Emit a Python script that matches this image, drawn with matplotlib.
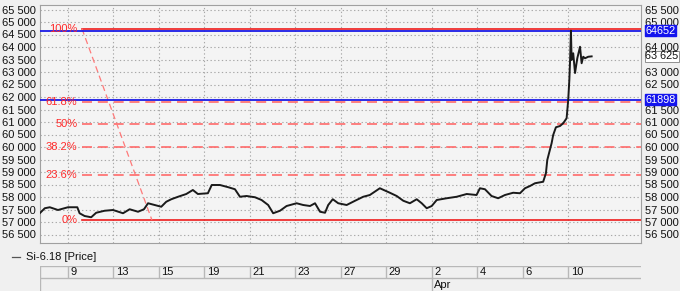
import matplotlib
matplotlib.use("Agg")
import matplotlib.pyplot as plt
from matplotlib.lines import Line2D
from matplotlib.ticker import FuncFormatter

plt.rcParams['font.family'] = ['Liberation Sans', 'DejaVu Sans']

# ---- data (x = trading-day index, 0 = Mar 9) ----
day_idx = [-1.23, -1.02, -0.80, -0.44, 0.00, 0.41, 0.51, 0.73, 1.02, 1.24, 1.61, 1.98,
           2.42, 2.71, 3.08, 3.34, 3.52, 3.81, 4.10, 4.32, 4.54, 4.84, 5.20, 5.49,
           5.71, 6.15, 6.32, 6.68, 7.05, 7.34, 7.56, 7.85, 8.22, 8.51, 8.80, 9.02,
           9.32, 9.61, 10.05, 10.34, 10.64, 10.86, 11.08, 11.30, 11.44, 11.64, 11.88,
           12.25, 12.62, 12.98, 13.27, 13.71, 14.15, 14.45, 14.74, 15.03, 15.33, 15.55,
           15.77, 15.99, 16.21, 16.65, 17.09, 17.53, 17.96, 18.11, 18.33, 18.62, 18.91,
           19.21, 19.57, 19.87, 20.09, 20.31, 20.53, 20.89, 21.01, 21.07, 21.26, 21.33,
           21.45, 21.63, 21.77, 21.92, 21.99, 22.04, 22.07, 22.11, 22.14, 22.21, 22.29,
           22.39, 22.51, 22.58, 22.65, 22.73, 22.87, 23.02]
price = [57360, 57550, 57590, 57480, 57590, 57590, 57350, 57240, 57190, 57370, 57450, 57480,
         57350, 57510, 57410, 57510, 57750, 57680, 57610, 57810, 57910, 58010, 58120, 58280,
         58120, 58150, 58480, 58480, 58390, 58310, 58010, 58040, 57990, 57880, 57680, 57350,
         57450, 57640, 57750, 57680, 57640, 57750, 57410, 57370, 57680, 57910, 57750,
         57680, 57850, 58010, 58080, 58350, 58170, 58040, 57850, 57750, 57910, 57750,
         57550, 57640, 57880, 57950, 58010, 58120, 58080, 58350, 58310, 58040, 57950,
         58080, 58170, 58150, 58350, 58440, 58550, 58610, 58950, 59480, 60150, 60480,
         60790, 60840, 60950, 61150, 61880, 62680, 63410, 64652, 63480, 63750, 62960,
         63550, 64010, 63350, 63610, 63550, 63610, 63625]

tick_idx = [0, 2, 4, 6, 8, 10, 12, 14, 16, 18, 20, 22]
tick_labels = ['9', '13', '15', '19', '21', '23', '27', '29', '2', '4', '6', '10']
month_label = 'Apr'
month_idx = 16

fib_start_idx = 0.615
fib_end_idx = 3.69
fib_high = 64732
fib_low = 57080
fib_ratios = [1.0, 0.618, 0.5, 0.382, 0.236, 0.0]
fib_names = ['100%', '61.8%', '50%', '38.2%', '23.6%', '0%']

blue_levels = [64652, 61898]
last_price = 63625
series_name = 'Si-6.18 [Price]'

# ---- figure ----
W, H = 680, 291
FS = 8.0
TFS = 7.8
fig = plt.figure(figsize=(W / 100, H / 100), dpi=100, facecolor='#f0f0f0')
ax = fig.add_axes([40 / W, 1 - 243 / H, 601 / W, 238 / H], facecolor='#f4f4f4')
ax.set_xlim(-1.23, 25.19)
ax.set_ylim(56160, 65680)

for s in ax.spines.values():
    s.set_color('#a0a0a0')
    s.set_linewidth(0.8)

yt = list(range(56500, 65501, 500))
ax.set_yticks(yt)
fmt = FuncFormatter(lambda v, p: f"{int(v):,}".replace(',', ' '))
ax.yaxis.set_major_formatter(fmt)
ax.tick_params(axis='y', which='both', length=0, labelsize=FS, colors='#111111',
               left=False, right=False, labelleft=True, labelright=True, pad=3)
ax.set_xticks(tick_idx)
ax.tick_params(axis='x', length=0, labelbottom=False)
ax.grid(True, color='#a8a8a8', linestyle=(0, (1.2, 2.2)), linewidth=0.8)
ax.set_axisbelow(True)

# right-hand labels hidden under the value tags
tagged = blue_levels + [last_price]
for v, tick in zip(yt, ax.yaxis.get_major_ticks()):
    if any(abs(v - t) < 200 for t in tagged):
        tick.label2.set_visible(False)

# fibonacci
rng = fib_high - fib_low
for r, name in zip(fib_ratios, fib_names):
    lvl = fib_low + r * rng
    if r in (0.0, 1.0):
        ax.plot([fib_start_idx, 25.19], [lvl, lvl], color='#ee1c1c', lw=1.2, zorder=3)
    else:
        ax.plot([fib_start_idx, 25.19], [lvl, lvl], color='#ff6a6a', lw=1.2,
                linestyle=(0, (6, 3.5)), zorder=3)
    ax.text(fib_start_idx - 0.2, lvl, name, color='#ff2a2a', fontsize=FS,
            ha='right', va='center', zorder=5)
ax.plot([fib_start_idx, fib_end_idx], [fib_high, fib_low], color='#ff7a7a', lw=0.9,
        linestyle=(0, (5, 3)), zorder=3)

for b in blue_levels:
    ax.axhline(b, color='#1a1ae6', lw=1.3, zorder=4)

ax.plot(day_idx, price, color='#1a1a1a', lw=1.4, zorder=6)

# right tags
for b in blue_levels:
    ax.annotate(str(b), xy=(1.0, b), xycoords=('axes fraction', 'data'),
                xytext=(3, 0), textcoords='offset points', ha='left', va='center',
                fontsize=TFS, color='white', annotation_clip=False, zorder=10,
                bbox=dict(boxstyle='square,pad=0.05', fc='#1414ee', ec='#1414ee'))
ax.annotate(f"{last_price:,}".replace(',', ' '), xy=(1.0, last_price),
            xycoords=('axes fraction', 'data'), xytext=(3, 0), textcoords='offset points',
            ha='left', va='center', fontsize=TFS, color='#111111', annotation_clip=False,
            zorder=10, bbox=dict(boxstyle='square,pad=0.05', fc='white', ec='#909090', lw=0.7))

# legend
fig.add_artist(Line2D([12 / W, 20 / W], [1 - 257 / H] * 2, color='#555555', lw=0.9))
fig.text(26 / W, 1 - 257 / H, series_name, fontsize=FS, va='center', ha='left', color='#111111')

# date axis
axd = fig.add_axes([40 / W, 0, 601 / W, 25 / H])
axd.set_xlim(-1.23, 25.19)
axd.set_ylim(0, 25)
axd.axis('off')
axd.axhline(25, color='#b8b8b8', lw=1.0)
axd.axhline(13.3, color='#b8b8b8', lw=1.0)
axd.vlines([-1.23], 0, 25, color='#b8b8b8', lw=1.0)
axd.vlines(tick_idx, 13.3, 25, color='#b8b8b8', lw=1.0)
axd.vlines([month_idx], 0, 13.3, color='#b8b8b8', lw=1.0)
for t, lab in zip(tick_idx, tick_labels):
    axd.text(t + 0.1, 19.2, lab, fontsize=FS, ha='left', va='center', color='#111111')
axd.text(month_idx + 0.1, 6.0, month_label, fontsize=FS, ha='left', va='center', color='#111111')

fig.savefig('out.png', dpi=100, facecolor=fig.get_facecolor())
